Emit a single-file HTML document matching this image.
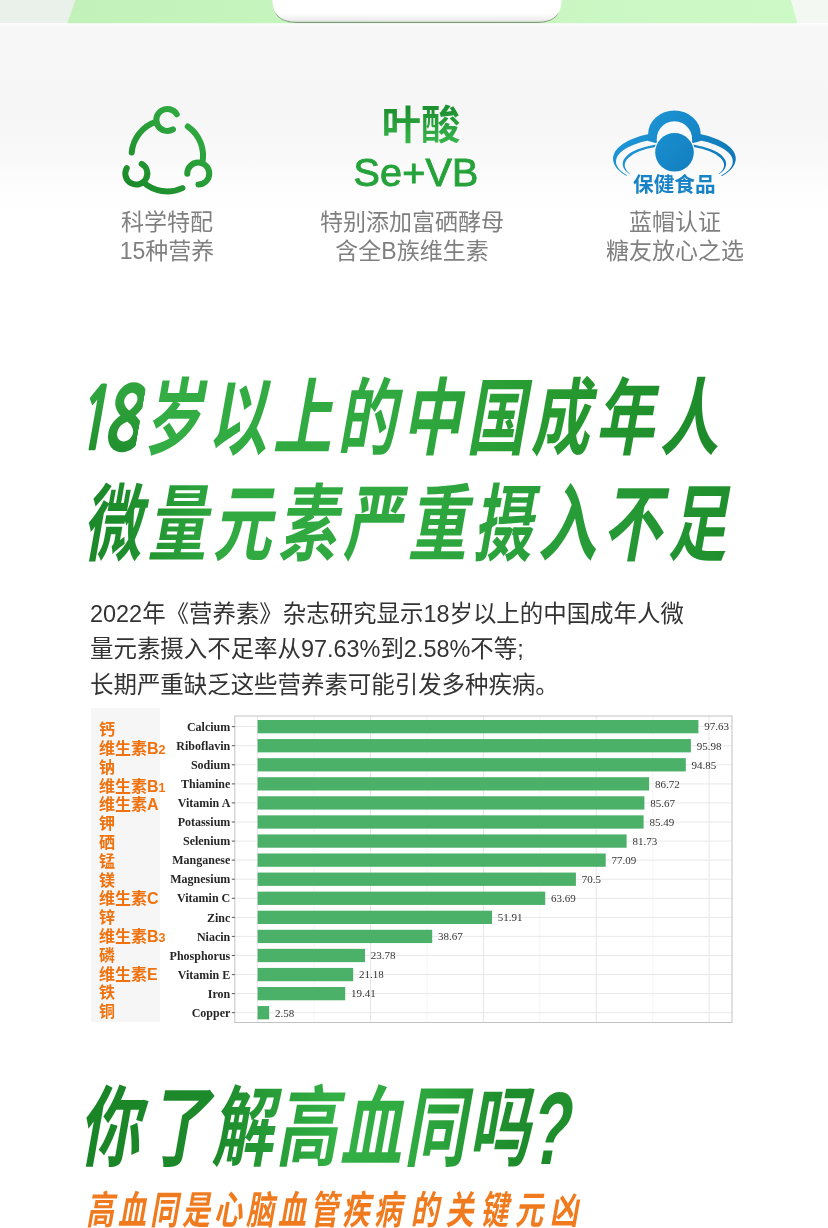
<!DOCTYPE html>
<html lang="zh-CN">
<head>
<meta charset="utf-8">
<title>微量元素</title>
<style>
html,body{margin:0;padding:0;}
body{width:828px;height:1228px;position:relative;overflow:hidden;background:#fff;
  font-family:"Liberation Sans","Noto Sans CJK SC",sans-serif;}
.abs{position:absolute;}
/* top band */
#topbg{left:0;top:0;width:828px;height:24px;background:linear-gradient(90deg,#e9f1ea 0%,#e9f1ea 50%,#f3f8f2 50%,#f3f8f2 100%);}
#toppanel{left:0;top:0;width:828px;height:30px;}
#fade{left:0;top:23px;width:828px;height:300px;background:linear-gradient(#fdfdfd 0px,#f7f7f7 5px,#f6f6f6 95px,#fafafa 140px,#fefefe 175px,#ffffff 195px);}
/* features */
.feat{position:absolute;text-align:center;color:#808080;font-size:23px;line-height:29.2px;white-space:nowrap;
  font-family:"Liberation Sans","Noto Sans CJK SC",sans-serif;font-weight:400;}
.gtitle{position:absolute;text-align:center;color:#21a038;font-weight:700;white-space:nowrap;}
/* headings */
.hd{position:absolute;white-space:nowrap;font-weight:700;transform-origin:0 100%;
  font-family:"Liberation Sans","Noto Sans CJK SC",sans-serif;
  background:linear-gradient(100deg,#1c8a2b 0%,#35b548 45%,#2aa53c 70%,#1c8a2b 100%);
  -webkit-background-clip:text;background-clip:text;color:transparent;-webkit-text-fill-color:transparent;}
.para{position:absolute;left:90px;top:596.5px;color:#333;font-size:23.45px;line-height:35.5px;white-space:nowrap;
  font-family:"Liberation Sans","Noto Sans CJK SC",sans-serif;font-weight:400;}
/* chart */
#chart{left:0;top:0;}
</style>
</head>
<body>
<div class="abs" id="topbg"></div>
<div class="abs" id="fade"></div>
<svg class="abs" id="toppanel" width="828" height="30" viewBox="0 0 828 30">
  <defs><linearGradient id="gp" x1="0" x2="1" y1="0" y2="0"><stop offset="0" stop-color="#c2f2ba"/><stop offset="1" stop-color="#cdf9c6"/></linearGradient>
  <linearGradient id="gbt" x1="0" x2="0" y1="0" y2="1"><stop offset="0" stop-color="#ffffff"/><stop offset="0.6" stop-color="#ffffff"/><stop offset="0.9" stop-color="#efefef"/><stop offset="1" stop-color="#e2e2e2"/></linearGradient></defs>
  <polygon points="75.4,0 791,0 797.3,23.2 67.4,23.2" fill="url(#gp)"/>
  <path d="M276 13 Q281 22.3 296 22.3 H538 Q553 22.3 558 13" fill="none" stroke="#4a4a4a" stroke-opacity=".55" stroke-width="1.3"/>
  <path d="M272.3 0 Q272.6 21.6 296 21.6 H538 Q561.4 21.6 561.7 0 Z" fill="url(#gbt)"/>
</svg>

<!-- feature 1 -->
<svg class="abs" style="left:0;top:0" width="300" height="210" viewBox="0 0 300 210">
  <defs><linearGradient id="gi" gradientUnits="userSpaceOnUse" x1="195" y1="110" x2="130" y2="190"><stop offset="0" stop-color="#33ad44"/><stop offset="1" stop-color="#1a8a29"/></linearGradient></defs>
  <g fill="none" stroke="url(#gi)" stroke-width="6" stroke-linecap="round">
    <path d="M176.73 114.28 A11.0 11.0 0 1 0 172.97 129.38"/><path d="M156.43 121.64 A35.75 35.75 0 0 0 131.69 152.58"/><path d="M198.45 184.57 A11.0 11.0 0 1 0 187.26 173.77"/><path d="M202.23 163.32 A35.75 35.75 0 0 0 187.81 126.42"/><path d="M126.72 168.24 A11.0 11.0 0 1 0 141.67 163.95"/><path d="M143.24 182.14 A35.75 35.75 0 0 0 182.41 188.10"/>
  </g>
</svg>
<div class="feat" style="left:67px;width:200px;top:208px">科学特配<br>15种营养</div>

<!-- feature 2 -->
<div class="gtitle" style="left:321px;width:200px;top:101.5px;font-size:39.4px;line-height:46px;background:linear-gradient(#1d9030 15%,#37b34a 85%);-webkit-background-clip:text;background-clip:text;color:transparent;-webkit-text-fill-color:transparent;">叶酸</div>
<div class="gtitle" style="left:316px;width:200px;top:148.5px;font-size:39.5px;line-height:46px;font-weight:400;-webkit-text-stroke:0.9px #26a23a;color:#26a23a;letter-spacing:0.2px;">Se+VB</div>
<div class="feat" style="left:312px;width:200px;top:208px">特别添加富硒酵母<br>含全B族维生素</div>

<!-- feature 3 -->
<svg class="abs" style="left:590px;top:90px" width="170" height="120" viewBox="590 90 170 120">
  <defs>
    <linearGradient id="gb" gradientUnits="userSpaceOnUse" x1="630" y1="110" x2="720" y2="185"><stop offset="0" stop-color="#1f99da"/><stop offset="1" stop-color="#0e76b6"/></linearGradient>
    <clipPath id="cb"><polygon points="590,90 760,90 760,176 722,176 716,172 632,172 626,176 590,176"/></clipPath>
  </defs>
  <g clip-path="url(#cb)" fill="url(#gb)" fill-rule="evenodd">
    <path d="M613 158.8 a61.4 27.3 0 1 0 122.8 0 a61.4 27.3 0 1 0 -122.8 0 Z M616 161.5 a58.4 23.5 0 1 1 116.8 0 a58.4 23.5 0 1 1 -116.8 0 Z"/>
    <path d="M622.7 163.9 a51.7 20.6 0 1 0 103.4 0 a51.7 20.6 0 1 0 -103.4 0 Z M624.7 165.1 a49.7 19.5 0 1 1 99.4 0 a49.7 19.5 0 1 1 -99.4 0 Z"/>
  </g>
  <circle cx="674.4" cy="140" r="18.4" fill="#f9f9f9"/>
  <path fill="url(#gb)" d="M648.1 141 V134.1 a26.3 23.6 0 0 1 52.6 0 V141 L691.5 143.5 A17.7 17.7 0 1 0 657.3 143.5 Z"/>
  <circle cx="674.5" cy="152.3" r="20.5" fill="#f9f9f9"/>
  <circle cx="674.5" cy="152.3" r="19.3" fill="url(#gb)"/>
  <text x="674.3" y="192" text-anchor="middle" font-family="'Liberation Sans','Noto Sans CJK SC',sans-serif" font-weight="700" font-size="20.6" fill="#1783c6">保健食品</text>
</svg>
<div class="feat" style="left:575px;width:200px;top:208px">蓝帽认证<br>糖友放心之选</div>

<!-- heading 1 -->
<div class="hd" id="h1n" style="left:71px;top:364px;font-family:'NanumGothic',sans-serif;font-weight:800;font-size:86px;line-height:110px;letter-spacing:-8px;transform:skewX(-10deg) scaleX(.6);background:linear-gradient(#2fa33d 30%,#1f8d2c 85%);-webkit-background-clip:text;background-clip:text;">1<span style="display:inline-block;transform:scaleX(1.22);transform-origin:0 50%;margin-left:1.5px;background:inherit;-webkit-background-clip:text;background-clip:text;">8</span></div>
<div class="hd" id="h1a" style="left:139px;top:364px;font-size:84px;line-height:110px;letter-spacing:8.2px;transform:skewX(-10deg) scaleX(.70);background:linear-gradient(75deg,#33ad44 0%,#2fa83f 45%,#26992f 70%,#1d8b2b 95%);-webkit-background-clip:text;background-clip:text;">岁以上的中国成年人</div>
<div class="hd" id="h1b" style="left:78px;top:469.5px;font-size:84px;line-height:110px;letter-spacing:8.9px;transform:skewX(-10deg) scaleX(.70);background:linear-gradient(78deg,#1a8728 0%,#1e8e2c 7%,#30aa41 22%,#2fa83f 50%,#289d38 72%,#1f8e2d 100%);-webkit-background-clip:text;background-clip:text;">微量元素严重摄入不足</div>

<div class="para">2022年《营养素》杂志研究显示18岁以上的中国成年人微<br>量元素摄入不足率从97.63%到2.58%不等;<br>长期严重缺乏这些营养素可能引发多种疾病。</div>

<!-- chart placeholder -->
<svg class="abs" id="chart" width="828" height="1228" viewBox="0 0 828 1228" style="left:0;top:0">
<rect x="91" y="708" width="69" height="314" fill="#f6f6f6"/>
<rect x="234.8" y="716.0" width="497.2" height="306.5" fill="#ffffff"/>
<g><line x1="257.6" y1="716.0" x2="257.6" y2="1022.5" stroke="#e6e6e6" stroke-width="1"/><line x1="314.0" y1="716.0" x2="314.0" y2="1022.5" stroke="#f0f0f0" stroke-width="0.7"/><line x1="370.5" y1="716.0" x2="370.5" y2="1022.5" stroke="#e6e6e6" stroke-width="1"/><line x1="426.9" y1="716.0" x2="426.9" y2="1022.5" stroke="#f0f0f0" stroke-width="0.7"/><line x1="483.4" y1="716.0" x2="483.4" y2="1022.5" stroke="#e6e6e6" stroke-width="1"/><line x1="539.8" y1="716.0" x2="539.8" y2="1022.5" stroke="#f0f0f0" stroke-width="0.7"/><line x1="596.2" y1="716.0" x2="596.2" y2="1022.5" stroke="#e6e6e6" stroke-width="1"/><line x1="652.7" y1="716.0" x2="652.7" y2="1022.5" stroke="#f0f0f0" stroke-width="0.7"/><line x1="709.1" y1="716.0" x2="709.1" y2="1022.5" stroke="#e6e6e6" stroke-width="1"/><line x1="234.8" y1="726.6" x2="732.0" y2="726.6" stroke="#e8e8e8" stroke-width="1"/><line x1="234.8" y1="745.7" x2="732.0" y2="745.7" stroke="#e8e8e8" stroke-width="1"/><line x1="234.8" y1="764.8" x2="732.0" y2="764.8" stroke="#e8e8e8" stroke-width="1"/><line x1="234.8" y1="783.9" x2="732.0" y2="783.9" stroke="#e8e8e8" stroke-width="1"/><line x1="234.8" y1="802.9" x2="732.0" y2="802.9" stroke="#e8e8e8" stroke-width="1"/><line x1="234.8" y1="822.0" x2="732.0" y2="822.0" stroke="#e8e8e8" stroke-width="1"/><line x1="234.8" y1="841.1" x2="732.0" y2="841.1" stroke="#e8e8e8" stroke-width="1"/><line x1="234.8" y1="860.1" x2="732.0" y2="860.1" stroke="#e8e8e8" stroke-width="1"/><line x1="234.8" y1="879.2" x2="732.0" y2="879.2" stroke="#e8e8e8" stroke-width="1"/><line x1="234.8" y1="898.3" x2="732.0" y2="898.3" stroke="#e8e8e8" stroke-width="1"/><line x1="234.8" y1="917.4" x2="732.0" y2="917.4" stroke="#e8e8e8" stroke-width="1"/><line x1="234.8" y1="936.4" x2="732.0" y2="936.4" stroke="#e8e8e8" stroke-width="1"/><line x1="234.8" y1="955.5" x2="732.0" y2="955.5" stroke="#e8e8e8" stroke-width="1"/><line x1="234.8" y1="974.6" x2="732.0" y2="974.6" stroke="#e8e8e8" stroke-width="1"/><line x1="234.8" y1="993.6" x2="732.0" y2="993.6" stroke="#e8e8e8" stroke-width="1"/><line x1="234.8" y1="1012.7" x2="732.0" y2="1012.7" stroke="#e8e8e8" stroke-width="1"/></g>
<g fill="#4bb068"><rect x="257.6" y="720.00" width="440.8" height="13.3"/><rect x="257.6" y="739.07" width="433.3" height="13.3"/><rect x="257.6" y="758.14" width="428.2" height="13.3"/><rect x="257.6" y="777.21" width="391.5" height="13.3"/><rect x="257.6" y="796.28" width="386.8" height="13.3"/><rect x="257.6" y="815.35" width="386.0" height="13.3"/><rect x="257.6" y="834.42" width="369.0" height="13.3"/><rect x="257.6" y="853.49" width="348.1" height="13.3"/><rect x="257.6" y="872.56" width="318.3" height="13.3"/><rect x="257.6" y="891.63" width="287.6" height="13.3"/><rect x="257.6" y="910.70" width="234.4" height="13.3"/><rect x="257.6" y="929.77" width="174.6" height="13.3"/><rect x="257.6" y="948.84" width="107.4" height="13.3"/><rect x="257.6" y="967.91" width="95.6" height="13.3"/><rect x="257.6" y="986.98" width="87.6" height="13.3"/><rect x="257.6" y="1006.05" width="11.6" height="13.3"/></g>
<rect x="234.8" y="716.0" width="497.2" height="306.5" fill="none" stroke="#c2c2c2" stroke-width="1"/>
<g stroke="#555" stroke-width="1"><line x1="231.8" y1="726.6" x2="234.8" y2="726.6"/><line x1="231.8" y1="745.7" x2="234.8" y2="745.7"/><line x1="231.8" y1="764.8" x2="234.8" y2="764.8"/><line x1="231.8" y1="783.9" x2="234.8" y2="783.9"/><line x1="231.8" y1="802.9" x2="234.8" y2="802.9"/><line x1="231.8" y1="822.0" x2="234.8" y2="822.0"/><line x1="231.8" y1="841.1" x2="234.8" y2="841.1"/><line x1="231.8" y1="860.1" x2="234.8" y2="860.1"/><line x1="231.8" y1="879.2" x2="234.8" y2="879.2"/><line x1="231.8" y1="898.3" x2="234.8" y2="898.3"/><line x1="231.8" y1="917.4" x2="234.8" y2="917.4"/><line x1="231.8" y1="936.4" x2="234.8" y2="936.4"/><line x1="231.8" y1="955.5" x2="234.8" y2="955.5"/><line x1="231.8" y1="974.6" x2="234.8" y2="974.6"/><line x1="231.8" y1="993.6" x2="234.8" y2="993.6"/><line x1="231.8" y1="1012.7" x2="234.8" y2="1012.7"/></g>
<g font-family="'Liberation Serif',serif" font-weight="700" font-size="12" fill="#262626" text-anchor="end"><text x="230.3" y="730.8">Calcium</text><text x="230.3" y="749.8">Riboflavin</text><text x="230.3" y="768.9">Sodium</text><text x="230.3" y="788.0">Thiamine</text><text x="230.3" y="807.0">Vitamin A</text><text x="230.3" y="826.1">Potassium</text><text x="230.3" y="845.2">Selenium</text><text x="230.3" y="864.2">Manganese</text><text x="230.3" y="883.3">Magnesium</text><text x="230.3" y="902.4">Vitamin C</text><text x="230.3" y="921.5">Zinc</text><text x="230.3" y="940.5">Niacin</text><text x="230.3" y="959.6">Phosphorus</text><text x="230.3" y="978.7">Vitamin E</text><text x="230.3" y="997.7">Iron</text><text x="230.3" y="1016.8">Copper</text></g>
<g font-family="'Liberation Serif',serif" font-size="11" fill="#333"><text x="704.2" y="730.4">97.63</text><text x="696.7" y="749.5">95.98</text><text x="691.6" y="768.6">94.85</text><text x="654.9" y="787.7">86.72</text><text x="650.2" y="806.7">85.67</text><text x="649.4" y="825.8">85.49</text><text x="632.4" y="844.9">81.73</text><text x="611.5" y="863.9">77.09</text><text x="581.7" y="883.0">70.5</text><text x="551.0" y="902.1">63.69</text><text x="497.8" y="921.1">51.91</text><text x="438.0" y="940.2">38.67</text><text x="370.8" y="959.3">23.78</text><text x="359.0" y="978.4">21.18</text><text x="351.0" y="997.4">19.41</text><text x="275.0" y="1016.5">2.58</text></g>
<g font-family="'Liberation Sans','Noto Sans CJK SC',sans-serif" font-weight="700" font-size="16" fill="#f0720f"><text x="99" y="735.1">钙</text><text x="99" y="753.9">维生素B<tspan font-size="12.5">2</tspan></text><text x="99" y="772.7">钠</text><text x="99" y="791.5">维生素B<tspan font-size="12.5">1</tspan></text><text x="99" y="810.3">维生素A</text><text x="99" y="829.1">钾</text><text x="99" y="847.9">硒</text><text x="99" y="866.7">锰</text><text x="99" y="885.5">镁</text><text x="99" y="904.3">维生素C</text><text x="99" y="923.1">锌</text><text x="99" y="941.9">维生素B<tspan font-size="12.5">3</tspan></text><text x="99" y="960.7">磷</text><text x="99" y="979.5">维生素E</text><text x="99" y="998.3">铁</text><text x="99" y="1017.1">铜</text></g>
</svg>

<!-- heading 2 -->
<div class="hd" id="h2" style="left:73.5px;top:1074px;font-size:88px;line-height:110px;letter-spacing:4.8px;transform:skewX(-10deg) scaleX(.70);background:linear-gradient(72deg,#198426 0%,#1d8a2b 30%,#33b046 55%,#2fa940 72%,#1e8c2c 92%);-webkit-background-clip:text;background-clip:text;">你<span style="margin-left:5.7px;letter-spacing:3.7px;">了解高血同</span>吗</div>
<div class="hd" id="h2q" style="left:523px;top:1068.5px;font-size:103px;line-height:120px;transform:skewX(-10deg) scaleX(.62);background:linear-gradient(#21922f,#1c8829);-webkit-background-clip:text;background-clip:text;">?</div>
<div class="hd" id="h3" style="left:84px;top:1186px;font-size:39px;line-height:50px;letter-spacing:5.4px;transform:skewX(-10deg) scaleX(.72);background:#f07a1e;-webkit-background-clip:text;background-clip:text;">高血同是心脑血管疾病<span style="margin-left:7px;letter-spacing:9.2px;">的关键元凶</span></div>
</body>
</html>
